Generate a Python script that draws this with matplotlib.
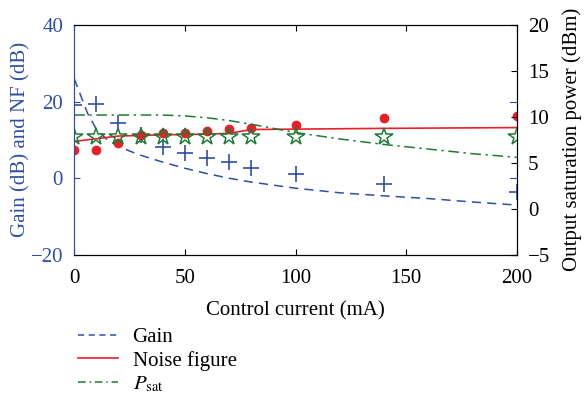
import numpy as np
import matplotlib
matplotlib.use("Agg")
import matplotlib.pyplot as plt
from matplotlib.lines import Line2D

plt.rcParams['font.family'] = ['Liberation Serif', 'DejaVu Serif']
plt.rcParams['mathtext.fontset'] = 'stix'

# measured points
x_meas = [0, 10, 20, 30, 40, 50, 60, 70, 80, 100, 140, 200]
gain_meas = [19.0, 19.3, 14.3, 11.3, 8.1, 6.5, 5.2, 4.2, 2.6, 1.0, -1.6, -3.7]
nf_meas = [7.3, 7.3, 9.1, 11.2, 11.7, 11.8, 12.3, 12.8, 13.1, 13.8, 15.6, 16.2]
psat_meas = [7.8, 7.8, 7.8, 7.8, 7.8, 7.8, 7.8, 7.8, 7.8, 7.8, 7.8, 7.8]

# simulated curves
x_gain = [0, 3, 6, 10, 15, 20, 25, 30, 40, 50, 60, 70, 80, 100, 120, 140, 160, 180, 200]
gain_sim = [26.0, 21.5, 17.0, 12.8, 10.0, 8.4, 7.1, 6.0, 4.2, 2.6, 1.2, 0.0, -1.0,
            -2.6, -3.8, -4.6, -5.3, -6.2, -7.0]
x_nf = [0, 20, 40, 60, 70, 80, 100, 140, 200]
nf_sim = [9.6, 11.0, 11.3, 11.5, 11.7, 12.7, 12.8, 13.0, 13.2]
x_psat = [0, 20, 40, 50, 60, 70, 80, 100, 120, 140, 160, 180, 200]
psat_sim = [10.2, 10.2, 10.2, 10.1, 9.9, 9.6, 9.2, 8.3, 7.6, 7.0, 6.5, 6.0, 5.6]

blue = '#2f4fa3'
red = '#e8202a'
green = '#1e7b34'
fs = 15

fig = plt.figure(figsize=(5.84, 3.94), dpi=100)
ax = fig.add_axes([0.127, 0.353, 0.758, 0.584])

ax.plot(x_gain, gain_sim, color=blue, lw=1.1, ls=(0, (6, 4)))
ax.plot(x_meas, gain_meas, ls='none', marker='+', ms=11, mew=1.2, color=blue)
ax.plot(x_nf, nf_sim, color=red, lw=1.2)
ax.plot(x_meas, nf_meas, ls='none', marker='o', ms=6, color=red)

ax.set_xlim(0, 200)
ax.set_ylim(-20, 40)
ax.set_xticks([0, 50, 100, 150, 200])
ax.set_yticks([-20, 0, 20, 40])
ax.tick_params(direction='in', top=True, right=False, labelsize=fs, length=4, pad=10)
ax.tick_params(axis='y', colors=blue, labelcolor=blue, pad=8)
ax.spines['left'].set_color(blue)
ax.set_xlabel('Control current (mA)', fontsize=fs, labelpad=10)
ax.set_ylabel('Gain (dB) and NF (dB)', fontsize=fs, color=blue, labelpad=0)

ax2 = ax.twinx()
ax2.plot(x_psat, psat_sim, color=green, lw=1.1, ls=(0, (7, 3, 1.5, 3)))
ax2.plot(x_meas, psat_meas, ls='none', marker='*', ms=13, mew=1.1,
         mfc='none', mec=green)
ax2.set_ylim(-5, 20)
ax2.set_yticks([-5, 0, 5, 10, 15, 20])
ax2.tick_params(direction='in', labelsize=fs, length=4, pad=8)
ax2.spines['left'].set_color(blue)
ax2.set_ylabel('Output saturation power (dBm)', fontsize=fs, labelpad=9)

# left-axis ticks mirrored on the right spine
for yv in [-20, 0, 20, 40]:
    ax.plot([1.0, 0.985], [yv, yv], color=blue, lw=0.8,
            transform=ax.get_yaxis_transform(), clip_on=False)

handles = [
    Line2D([], [], color=blue, lw=1.1, ls=(0, (4, 3))),
    Line2D([], [], color=red, lw=1.2),
    Line2D([], [], color=green, lw=1.1, ls=(0, (5, 2.5, 1, 2.5))),
]
fig.legend(handles, ['Gain', 'Noise figure', r'$P_{\mathrm{sat}}$'],
           loc='upper left', bbox_to_anchor=(0.12, 0.19), frameon=False,
           fontsize=fs, handlelength=1.9, handletextpad=0.7,
           labelspacing=0.18, borderaxespad=0)

fig.savefig('out.png', dpi=100)
